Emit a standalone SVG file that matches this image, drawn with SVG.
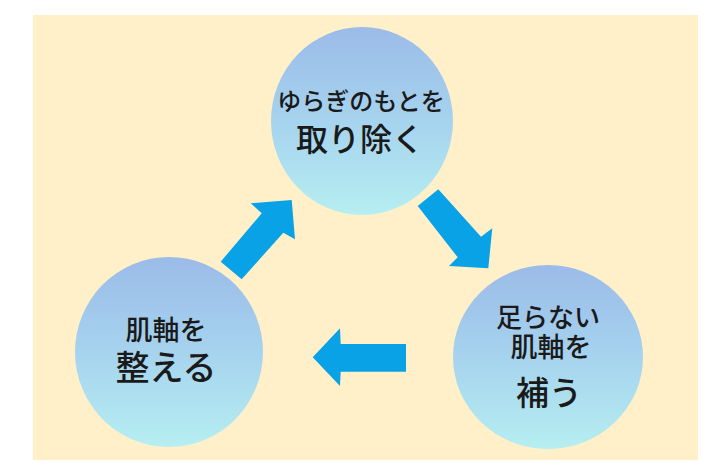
<svg xmlns="http://www.w3.org/2000/svg" width="707" height="474" viewBox="0 0 707 474">
<defs>
<linearGradient id="g" x1="0" y1="0" x2="0" y2="1">
<stop offset="0" stop-color="#9BBBE8"/>
<stop offset="0.5" stop-color="#A6D3EE"/>
<stop offset="1" stop-color="#B6EEF1"/>
</linearGradient>
</defs>
<style>
.c{fill:url(#g)}
.a{fill:#0AA2E6}
text{font-family:"Noto Sans CJK JP","Noto Sans CJK SC",sans-serif;fill:#1a1a1a;text-anchor:middle;font-weight:500}
</style>
<rect width="707" height="474" fill="#ffffff"/>
<rect x="33" y="15" width="665" height="445" fill="#FFF0CA"/>
<g id="connectors">
<polygon class="a" points="220.7,261.7 241.7,279.3 283.3,232.7 295,239.3 291.7,200 250.7,203.3 261.7,213.3"/>
<polygon class="a" points="417.7,206 438.3,189.3 481,236.7 492.3,228.3 488.3,268.3 449,266 457.7,257.3"/>
<polygon class="a" points="406,344 406,371.7 340.7,371.7 340,386 312.7,357.3 340,328.3 340.7,344"/>
</g>
<g id="node-top">
<ellipse class="c" cx="362" cy="121" rx="91" ry="94"/>
<text x="361" y="110" font-size="24">ゆらぎのもとを</text>
<text x="360" y="151" font-size="32">取り除く</text>
</g>
<g id="node-right">
<ellipse class="c" cx="548" cy="357" rx="95" ry="92"/>
<text x="548" y="327" font-size="26">足らない</text>
<text x="551" y="357" font-size="27">肌軸を</text>
<text x="549" y="405" font-size="33">補う</text>
</g>
<g id="node-left">
<ellipse class="c" cx="169" cy="352" rx="94" ry="95"/>
<text x="166" y="340" font-size="27">肌軸を</text>
<text x="166" y="380" font-size="34">整える</text>
</g>
</svg>
